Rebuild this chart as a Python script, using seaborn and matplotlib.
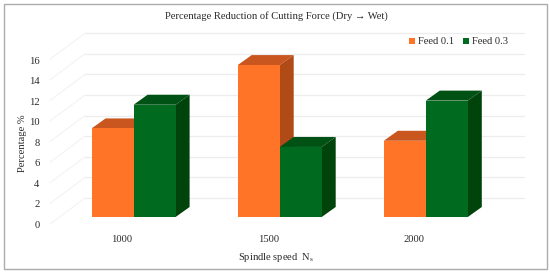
import matplotlib
matplotlib.use("Agg")
import matplotlib.pyplot as plt
from matplotlib.patches import Polygon, Rectangle
import seaborn as sns
import pandas as pd

speeds = ["1000", "1500", "2000"]
feed_01 = [8.6, 14.75, 7.4]
feed_03 = [10.9, 6.8, 11.3]
y_ticks = [0, 2, 4, 6, 8, 10, 12, 14, 16]

W, H = 550, 272
UNIT = 10.3      # px per percent
CAT = 146.1      # px per category
X0, Y0 = 133.6, 217.0   # px of category 0 centre and value 0 on the bars' front plane
DX, DY = 14.0, 10.0     # px depth of each bar
FS = 7.6

sns.set_theme(style="white")
plt.rcParams["font.family"] = ["Liberation Serif", "DejaVu Serif"]
plt.rcParams["mathtext.fontset"] = "custom"
plt.rcParams["mathtext.rm"] = "Liberation Serif"
TXT = "#2A2A2A"

df = pd.DataFrame({
    "speed": speeds * 2,
    "value": feed_01 + feed_03,
    "feed": ["Feed 0.1"] * 3 + ["Feed 0.3"] * 3,
})

fig = plt.figure(figsize=(W / 100, H / 100), dpi=100)
ax = fig.add_axes([0, 0, 1, 1])
front = {"Feed 0.1": "#FF7426", "Feed 0.3": "#006A1F"}
top = {"Feed 0.1": "#C9561E", "Feed 0.3": "#005214"}
side = {"Feed 0.1": "#B04A17", "Feed 0.3": "#00430B"}

sns.barplot(data=df, x="speed", y="value", hue="feed", order=speeds,
            palette=front, width=2 * 42 / CAT, gap=0, errorbar=None,
            saturation=1, linewidth=0, ax=ax, zorder=3, legend=False)

ax.set_xlim(-X0 / CAT, (W - X0) / CAT)
ax.set_ylim(-(H - Y0) / UNIT, Y0 / UNIT)
ax.axis("off")
dx, dy = DX / CAT, DY / UNIT

# back wall and side wall gridlines
wall_x0, wall_x1 = (85 - X0) / CAT, (524 - X0) / CAT
wall_base = (217 - 198) / UNIT
side_x0 = (50 - X0) / CAT
for v in y_ticks:
    yw = v + wall_base
    ax.plot([wall_x0, wall_x1], [yw, yw], color="#EDEDED", lw=0.9, zorder=1)
    ax.plot([side_x0, wall_x0], [v - 7 / UNIT, yw], color="#F3F3F3", lw=0.8, zorder=1)

# depth faces, derived from the bars seaborn drew
order = ["Feed 0.1"] * 3 + ["Feed 0.3"] * 3
for i, (p, name) in enumerate(zip(ax.patches, order)):
    x, w, h = p.get_x(), p.get_width(), p.get_height()
    z = 2 + 0.1 * (name == "Feed 0.3")
    ax.add_patch(Polygon([(x, h), (x + w, h), (x + w + dx, h + dy), (x + dx, h + dy)],
                         closed=True, fc=top[name], ec="none", zorder=z))
    ax.add_patch(Polygon([(x + w, 0), (x + w + dx, dy), (x + w + dx, h + dy), (x + w, h)],
                         closed=True, fc=side[name], ec="none", zorder=z))

# front-plane axis carrying the tick labels
left, right, base, tip = 43, 520, 224.5, 60
lab = fig.add_axes([left / W, 1 - base / H, (right - left) / W, (base - tip) / H])
lab.patch.set_alpha(0)
lab.set_ylim(0, 16)
lab.set_xlim((left - 122) / CAT, (right - 122) / CAT)
lab.set_xticks([0, 1, 2], speeds)
lab.set_yticks(y_ticks)
lab.tick_params(length=0, labelsize=FS, colors=TXT)
lab.tick_params(axis="x", pad=7.5)
lab.tick_params(axis="y", pad=2.5)
for s in lab.spines.values():
    s.set_visible(False)

fig.text(276 / W, 1 - 16 / H, "Percentage Reduction of Cutting Force (Dry \u2192 Wet)",
         ha="center", va="center", fontsize=FS, color=TXT)
fig.text(276 / W, 1 - 257 / H, "Spindle speed  N$_{\\mathrm{s}}$",
         ha="center", va="center", fontsize=FS, color=TXT)
fig.text(22.5 / W, 1 - 143 / H, "Percentage %", rotation=90,
         ha="center", va="center", fontsize=FS, color=TXT)

handles = [Rectangle((0, 0), 1, 1, fc=front[k], ec="none") for k in front]
ax.legend(handles, list(front), loc="center", ncols=2, frameon=False,
          bbox_to_anchor=(458.5 / W, 1 - 42 / H), bbox_transform=fig.transFigure,
          fontsize=FS, handlelength=0.57, handleheight=0.57, handletextpad=0.3,
          columnspacing=0.85, labelcolor=TXT)

fig.add_artist(Rectangle((3.5 / W, 1 - 268.5 / H), 543 / W, 265 / H,
                         transform=fig.transFigure, fc="none", ec="#ABABAB", lw=1.0))
fig.savefig("out.png", dpi=100, facecolor="white")
